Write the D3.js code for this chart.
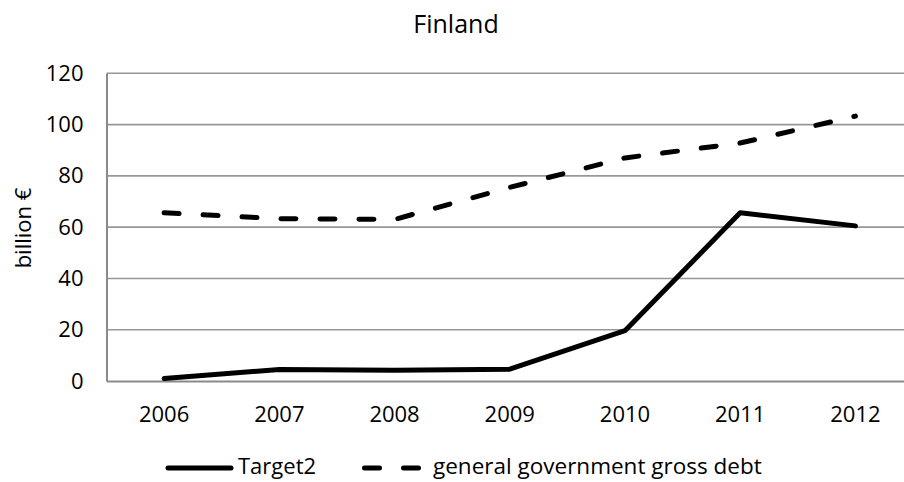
<!DOCTYPE html>
<html>
<head>
<meta charset="utf-8">
<script src="https://d3js.org/d3.v7.min.js"></script>
<style>
    body { margin: 0; background: #fff; }
    svg text { font-family: "Open Sans", "Noto Sans", sans-serif; fill: #000; }
    .grid line { stroke: #979797; stroke-width: 1.6; }
    .axis path, .axis line { stroke: #8a8a8a; stroke-width: 2; }
</style>
</head>
<body>
<div id="chart"></div>
<script>
var years = ["2006", "2007", "2008", "2009", "2010", "2011", "2012"];
var target2 = [1.0, 4.5, 4.2, 4.6, 19.6, 65.6, 60.5];
var grossDebt = [65.6, 63.3, 63.0, 75.5, 87.0, 92.8, 103.3];
var yTicks = [0, 20, 40, 60, 80, 100, 120];
var seriesNames = ["Target2", "general government gross debt"];

var chartWidth = 904, chartHeight = 482;
// plot area runs a little past the right edge of the picture, like the original
var margin = {top: 73.3, right: -9, bottom: 101, left: 106.5},
    width = chartWidth - margin.left - margin.right,
    height = chartHeight - margin.top - margin.bottom;

var svg = d3.select("#chart")
    .append("svg")
    .attr("width", chartWidth)
    .attr("height", chartHeight);

var g = svg.append("g")
    .attr("transform", "translate(" + margin.left + "," + margin.top + ")");

var x = d3.scaleBand()
    .domain(years)
    .range([0, width]);

var y = d3.scaleLinear()
    .domain([0, 120])
    .range([height, 0]);

// gridlines
g.append("g")
    .attr("class", "grid")
    .selectAll("line")
    .data(yTicks.filter(function(d){ return d > 0; }))
    .enter().append("line")
    .attr("x1", 0)
    .attr("x2", width)
    .attr("y1", function(d){ return y(d); })
    .attr("y2", function(d){ return y(d); });

var yAxis = d3.axisLeft(y).tickValues(yTicks).tickSize(0).tickPadding(23);
var xAxis = d3.axisBottom(x).tickSize(0).tickPadding(25);

g.append("g")
    .attr("class", "axis y")
    .call(yAxis)
    .selectAll("text")
    .style("font-size", "22px");

g.append("g")
    .attr("class", "axis x")
    .attr("transform", "translate(0," + height + ")")
    .call(xAxis)
    .selectAll("text")
    .style("font-size", "22px");

g.selectAll(".axis .domain").attr("stroke", "#8a8a8a").attr("stroke-width", 2);

var line = d3.line()
    .x(function(d, i){ return x(years[i]) + x.bandwidth() / 2; })
    .y(function(d){ return y(d); });

g.append("path")
    .datum(target2)
    .attr("fill", "none")
    .attr("stroke", "#000")
    .attr("stroke-width", 5)
    .attr("stroke-linecap", "round")
    .attr("stroke-linejoin", "round")
    .attr("d", line);

g.append("path")
    .datum(grossDebt)
    .attr("fill", "none")
    .attr("stroke", "#000")
    .attr("stroke-width", 5)
    .attr("stroke-linecap", "round")
    .attr("stroke-dasharray", "15,24")
    .attr("d", line);

// title
svg.append("text")
    .attr("x", 456)
    .attr("y", 33)
    .attr("text-anchor", "middle")
    .style("font-size", "25px")
    .text("Finland");

// y axis label
svg.append("text")
    .attr("transform", "translate(31,228) rotate(-90)")
    .attr("text-anchor", "middle")
    .style("font-size", "22px")
    .text("billion €");

// legend
var legend = svg.append("g").attr("class", "legend");
legend.append("line")
    .attr("x1", 168).attr("x2", 231)
    .attr("y1", 468).attr("y2", 468)
    .attr("stroke", "#000")
    .attr("stroke-width", 5)
    .attr("stroke-linecap", "round");
legend.append("text")
    .attr("x", 238).attr("y", 474)
    .style("font-size", "22px")
    .text(seriesNames[0]);
legend.append("line")
    .attr("x1", 364.5).attr("x2", 421)
    .attr("y1", 468).attr("y2", 468)
    .attr("stroke", "#000")
    .attr("stroke-width", 5)
    .attr("stroke-linecap", "round")
    .attr("stroke-dasharray", "15,24");
legend.append("text")
    .attr("x", 433).attr("y", 474)
    .style("font-size", "22.5px")
    .text(seriesNames[1]);
</script>
</body>
</html>
